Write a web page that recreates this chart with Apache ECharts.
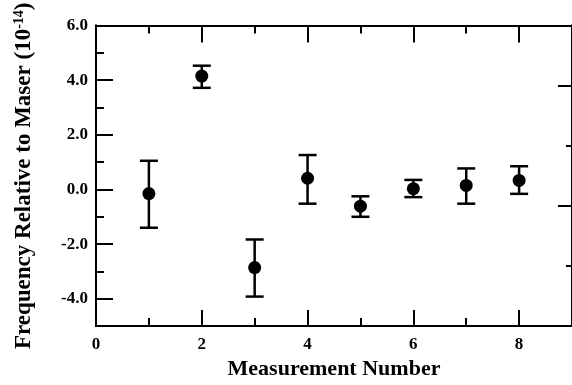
<!DOCTYPE html>
<html>
<head>
<meta charset="utf-8">
<script src="https://cdn.jsdelivr.net/npm/echarts@6/dist/echarts.min.js"></script>
<style>html,body{margin:0;padding:0;background:#fff;}#c{width:572px;height:385px;}</style>
</head>
<body>
<div id="c"></div>
<script>
// Data
var measurement = [1, 2, 3, 4, 5, 6, 7, 8];
var frequency   = [-0.15, 4.15, -2.86, 0.41, -0.61, 0.03, 0.15, 0.33];
var errUpper    = [1.05, 4.53, -1.83, 1.26, -0.25, 0.35, 0.77, 0.85];
var errLower    = [-1.40, 3.72, -3.92, -0.52, -1.00, -0.28, -0.52, -0.16];
var xMajorTicks = [0, 2, 4, 6, 8];
var xMinorTicks = [1, 3, 5, 7];
var yMajorTicks = [-4, -2, 0, 2, 4, 6];
var yMinorTicks = [-5, -3, -1, 1, 3, 5];

var FONT = '"Liberation Serif", "DejaVu Serif", serif';
var lineStyle = {color: '#000', width: 2};

function xAxisDef(pos, ticks, len, showLabel, extra) {
  var a = {
    type: 'value', position: pos, min: 0, max: 9,
    axisLine: {show: true, onZero: false, lineStyle: lineStyle},
    axisTick: {show: true, inside: true, length: len, customValues: ticks, lineStyle: lineStyle},
    axisLabel: {show: showLabel, customValues: xMajorTicks, margin: 10,
      fontFamily: FONT, fontWeight: 'bold', fontSize: 17, color: '#000'},
    splitLine: {show: false}
  };
  return Object.assign(a, extra || {});
}
function yAxisDef(pos, min, max, ticks, len, showLabel, extra) {
  var a = {
    type: 'value', position: pos, min: min, max: max,
    axisLine: {show: true, onZero: false, lineStyle: lineStyle},
    axisTick: {show: true, inside: true, length: len, customValues: ticks, lineStyle: lineStyle},
    axisLabel: {show: showLabel, customValues: yMajorTicks, margin: 8,
      fontFamily: FONT, fontWeight: 'bold', fontSize: 17, color: '#000',
      formatter: function (v) { return v.toFixed(1); }},
    splitLine: {show: false}
  };
  return Object.assign(a, extra || {});
}

var chart = echarts.init(document.getElementById('c'), null, {renderer: 'canvas'});
chart.setOption({
  animation: false,
  backgroundColor: '#fff',
  grid: {left: 96, top: 24, width: 477, height: 303},
  xAxis: [
    xAxisDef('bottom', xMajorTicks, 16, true, {
      name: 'Measurement Number', nameLocation: 'middle', nameGap: 31,
      nameTextStyle: {fontFamily: FONT, fontWeight: 'bold', fontSize: 22, color: '#000'}
    }),
    xAxisDef('bottom', xMinorTicks, 8, false),
    xAxisDef('top', xMajorTicks, 17, false),
    xAxisDef('top', xMinorTicks, 8, false)
  ],
  yAxis: [
    yAxisDef('left', -5, 6, yMajorTicks, 17, true, {
      name: 'Frequency Relative to Maser (10{sup|-14})', nameLocation: 'middle', nameGap: 60,
      nameRotate: 90,
      nameTextStyle: {fontFamily: FONT, fontWeight: 'bold', fontSize: 23, color: '#000',
        rich: {sup: {fontFamily: FONT, fontWeight: 'bold', fontSize: 14, color: '#000', verticalAlign: 'top', padding: [0, 0, 10, 0]}}}
    }),
    yAxisDef('left', -5, 6, yMinorTicks, 8, false),
    yAxisDef('right', 0, 5, [0, 2, 4], 14, false),
    yAxisDef('right', 0, 5, [1, 3, 5], 6, false)
  ],
  series: [
    {
      type: 'custom',
      xAxisIndex: 0, yAxisIndex: 0,
      data: measurement.map(function (m, i) { return [m, errLower[i], errUpper[i]]; }),
      renderItem: function (params, api) {
        var x = api.value(0);
        var lo = api.coord([x, api.value(1)]);
        var hi = api.coord([x, api.value(2)]);
        var hw = 9;
        var st = {stroke: '#000', lineWidth: 2.5};
        return {
          type: 'group',
          children: [
            {type: 'line', shape: {x1: lo[0], y1: lo[1], x2: hi[0], y2: hi[1]}, style: st},
            {type: 'line', shape: {x1: lo[0] - hw, y1: lo[1], x2: lo[0] + hw, y2: lo[1]}, style: st},
            {type: 'line', shape: {x1: hi[0] - hw, y1: hi[1], x2: hi[0] + hw, y2: hi[1]}, style: st}
          ]
        };
      },
      z: 2
    },
    {
      type: 'scatter',
      xAxisIndex: 0, yAxisIndex: 0,
      data: measurement.map(function (m, i) { return [m, frequency[i]]; }),
      symbol: 'circle', symbolSize: 13,
      itemStyle: {color: '#000', opacity: 1},
      z: 3
    }
  ]
});
</script>
</body>
</html>
